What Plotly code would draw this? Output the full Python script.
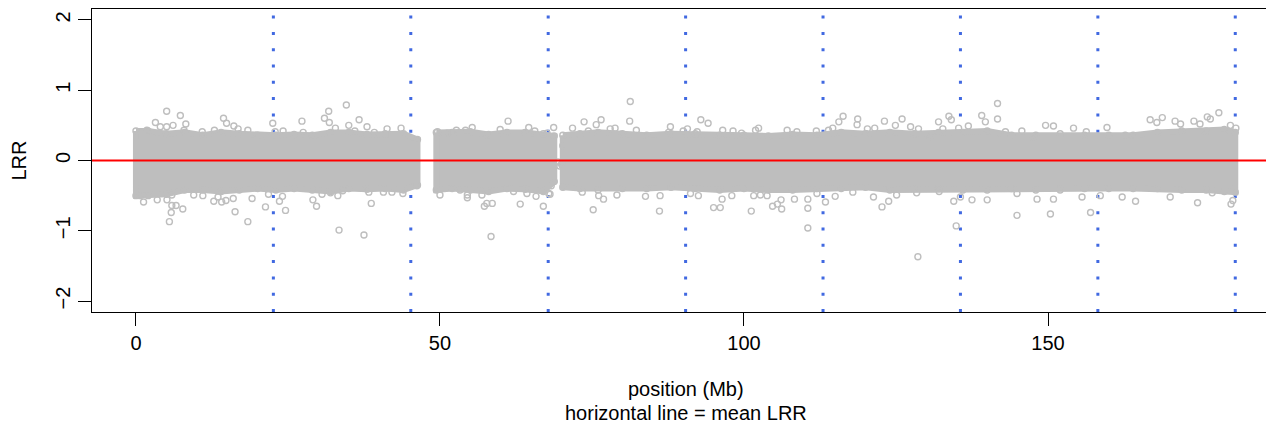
import plotly.graph_objects as go

# ---- data ----
# dense core of the LRR cloud (upper / lower extent of the solid band), per segment
core1_pos = [0.0, 2, 5, 8, 11, 14, 17, 20, 23, 26, 29, 32, 35, 38, 41, 44, 46.3]
core1_top = [0.42, 0.42, 0.38, 0.40, 0.36, 0.40, 0.38, 0.36, 0.36, 0.37, 0.36, 0.40, 0.40, 0.37, 0.38, 0.38, 0.30]
core1_bot = [-0.50, -0.50, -0.48, -0.42, -0.42, -0.44, -0.42, -0.40, -0.42, -0.40, -0.42, -0.44, -0.40, -0.41, -0.40, -0.42, -0.35]

core2_pos = [49.4, 52, 55, 58, 61, 64, 67, 68.8]
core2_top = [0.40, 0.40, 0.41, 0.37, 0.40, 0.40, 0.38, 0.35]
core2_bot = [-0.42, -0.40, -0.42, -0.44, -0.40, -0.41, -0.44, -0.30]

core3_pos = [70.2, 73, 76, 80, 84, 88, 92, 96, 100, 104, 108, 112, 116, 120, 124, 128,
             132, 136, 140, 144, 148, 152, 156, 160, 164, 168, 172, 176, 179, 180.8]
core3_top = [0.36, 0.38, 0.40, 0.38, 0.36, 0.38, 0.38, 0.36, 0.36, 0.35, 0.37, 0.36, 0.40, 0.38, 0.40, 0.38,
             0.40, 0.40, 0.42, 0.36, 0.36, 0.38, 0.36, 0.36, 0.36, 0.40, 0.42, 0.42, 0.44, 0.40]
core3_bot = [-0.38, -0.40, -0.42, -0.40, -0.40, -0.38, -0.40, -0.42, -0.40, -0.42, -0.42, -0.40, -0.40, -0.38, -0.42, -0.40,
             -0.40, -0.42, -0.42, -0.40, -0.42, -0.42, -0.40, -0.40, -0.40, -0.40, -0.42, -0.42, -0.44, -0.45]

# individual probes visible outside the dense band (position Mb, LRR)
probe_pos = [
    5.05, 7.3, 3.2, 5.05, 4.0, 6.1, 8.2, 7.9, 10.9, 14.4, 14.9, 16.1, 16.8, 18.4, 12.9, 22.5, 22.9, 24.2,
    27.3, 27.5, 31.7, 34.6, 31.8, 31.0, 32.8, 36.7, 35.0, 38.0, 36.0, 41.3, 43.6, 39.2, 29.1, 21.5, 1.8,
    1.25, 5.5, 5.8, 5.9, 6.6, 7.7, 5.1, 5.9, 3.5, 9.5, 11.0, 12.8, 13.5, 14.1, 14.8, 16.0, 16.3, 18.4,
    19.1, 21.3, 21.8, 23.6, 24.1, 24.6, 29.1, 29.7, 30.6, 32.0, 33.2, 33.4, 34.0, 37.5, 38.7, 38.3, 40.7,
    42.1, 43.9, 46.2, 0.7,
    49.6, 51.2, 52.7, 54.2, 55.3, 57.7, 59.9, 61.2, 64.6, 65.6, 67.6, 68.7,
    50.0, 53.3, 54.5, 54.5, 56.9, 57.3, 57.7, 58.6, 58.4, 62.1, 63.2, 64.3, 65.8, 67.0, 68.3, 67.9, 68.1,
    69.4, 69.7, 70.0, 70.2, 70.1,
    71.8, 73.7, 75.7, 76.5, 74.4, 78.0, 78.8, 81.2, 81.3, 82.3, 87.9, 87.6, 90.0, 90.7, 92.9, 94.1, 92.3,
    96.5, 98.2, 99.6, 101.9, 102.4, 107.1, 108.7, 111.9, 113.9, 114.6, 115.6, 116.3, 118.7, 118.6, 120.1,
    75.2, 73.4, 76.1, 76.9, 79.1, 83.8, 86.1, 86.2, 91.2, 92.5, 95.0, 96.1, 96.4, 98.0, 101.2, 101.6,
    102.7, 103.8, 104.7, 105.5, 106.2, 106.1, 108.3, 110.5, 110.5, 110.5, 112.0, 113.4, 115.0, 117.9,
    120.3, 123.1, 121.5, 124.9, 126.0, 127.4, 128.7, 130.6, 132.0, 133.7, 134.1, 132.7, 135.3, 136.9,
    139.1, 139.7, 141.7, 141.7, 143.0, 145.7, 147.6, 149.6, 150.9, 154.2, 156.3, 159.7, 162.7, 166.8,
    167.9, 168.8, 170.9, 171.8, 174.0, 176.2, 176.7, 178.1, 180.0, 180.9, 175.0,
    121.3, 122.7, 123.8, 125.1, 128.4, 132.1, 134.5, 134.9, 135.6, 137.5, 140.0, 128.6, 144.9, 144.9,
    148.2, 150.4, 150.9, 155.6, 157.0, 158.6, 164.4, 162.2, 170.1, 174.6, 177.0, 180.1, 180.4,
]
probe_lrr = [
    0.70, 0.64, 0.54, 0.48, 0.48, 0.50, 0.52, 0.43, 0.41, 0.60, 0.53, 0.49, 0.45, 0.43, 0.43, 0.53, 0.41, 0.42,
    0.56, 0.40, 0.70, 0.79, 0.54, 0.60, 0.46, 0.58, 0.50, 0.48, 0.42, 0.45, 0.46, 0.40, 0.34, 0.34, 0.43,
    -0.59, -0.87, -0.74, -0.64, -0.64, -0.69, -0.56, -0.49, -0.56, -0.49, -0.50, -0.58, -0.52, -0.59, -0.57, -0.54, -0.73, -0.87,
    -0.54, -0.66, -0.48, -0.58, -0.51, -0.71, -0.56, -0.65, -0.48, -0.46, -0.50, -0.99, -0.43, -1.06, -0.61, -0.45, -0.45,
    -0.45, -0.47, -0.36, -0.50,
    0.41, 0.39, 0.43, 0.43, 0.47, 0.36, 0.44, 0.56, 0.47, 0.42, 0.39, 0.47,
    -0.49, -0.42, -0.53, -0.49, -0.49, -0.65, -0.61, -0.61, -1.08, -0.44, -0.62, -0.47, -0.51, -0.65, -0.36, -0.47, -0.48,
    -0.02, -0.08, -0.05, 0.21, -0.07,
    0.46, 0.55, 0.51, 0.58, 0.42, 0.45, 0.46, 0.56, 0.84, 0.43, 0.48, 0.40, 0.42, 0.45, 0.58, 0.53, 0.41,
    0.43, 0.42, 0.39, 0.43, 0.46, 0.43, 0.41, 0.42, 0.43, 0.46, 0.55, 0.63, 0.59, 0.51, 0.38,
    -0.70, -0.45, -0.50, -0.55, -0.49, -0.51, -0.72, -0.50, -0.47, -0.50, -0.67, -0.67, -0.55, -0.50, -0.72, -0.50,
    -0.49, -0.50, -0.65, -0.62, -0.69, -0.56, -0.55, -0.55, -0.68, -0.96, -0.47, -0.59, -0.51, -0.45,
    0.45, 0.56, 0.46, 0.50, 0.59, 0.48, 0.45, 0.34, 0.55, 0.63, 0.58, 0.45, 0.46, 0.49,
    0.64, 0.55, 0.81, 0.59, 0.41, 0.42, 0.33, 0.50, 0.49, 0.46, 0.41, 0.47, 0.36, 0.58,
    0.54, 0.61, 0.56, 0.52, 0.56, 0.62, 0.59, 0.68, 0.50, 0.46, 0.52,
    -0.52, -0.66, -0.58, -0.49, -0.46, -0.44, -0.58, -0.93, -0.52, -0.56, -0.56, -1.37, -0.78, -0.47,
    -0.55, -0.76, -0.55, -0.52, -0.74, -0.50, -0.58, -0.52, -0.52, -0.60, -0.46, -0.62, -0.57,
]

mean_lrr = 0.0
boundary_pos = [22.6, 45.2, 67.8, 90.4, 113.0, 135.6, 158.2, 180.8]

x_ticks = [0, 50, 100, 150]
y_ticks = [-2, -1, 0, 1, 2]
x_range = [-7.23, 187.17]
y_range = [-2.155, 2.155]

GRAY = "#BEBEBE"
FONT = "Liberation Sans, Arial, sans-serif"

fig = go.Figure()

for px, top, bot in [(core1_pos, core1_top, core1_bot),
                     (core2_pos, core2_top, core2_bot),
                     (core3_pos, core3_top, core3_bot)]:
    poly_x = list(px) + list(px[::-1]) + [px[0]]
    poly_y = list(top) + list(bot[::-1]) + [top[0]]
    fig.add_trace(go.Scatter(
        x=poly_x, y=poly_y, mode="lines", fill="toself", fillcolor=GRAY,
        line=dict(color=GRAY, width=6), hoverinfo="skip", showlegend=False))
    fig.add_trace(go.Scatter(
        x=list(px) + list(px), y=list(top) + list(bot), mode="markers",
        marker=dict(symbol="circle-open", size=6, color=GRAY, line=dict(width=1.4, color=GRAY)),
        hoverinfo="skip", showlegend=False))

fig.add_trace(go.Scatter(
    x=probe_pos, y=probe_lrr, mode="markers",
    marker=dict(symbol="circle-open", size=6, color=GRAY, line=dict(width=1.4, color=GRAY)),
    showlegend=False))

shapes = []
for b in boundary_pos:
    shapes.append(dict(type="line", xref="x", yref="paper", x0=b, x1=b, y0=0, y1=1,
                       layer="below", line=dict(color="#4169E1", width=3, dash="3px,13.3px")))
shapes.append(dict(type="line", xref="paper", yref="y", x0=0, x1=1, y0=mean_lrr, y1=mean_lrr,
                   layer="above", line=dict(color="#FF0000", width=2)))

fig.update_layout(
    width=1266, height=417,
    margin=dict(l=84, r=0, t=1, b=113),
    paper_bgcolor="white", plot_bgcolor="white",
    font=dict(family=FONT, size=20, color="black"),
    shapes=shapes,
    showlegend=False,
    xaxis=dict(range=x_range, tickvals=x_ticks, ticks="outside", ticklen=13, tickwidth=1.3,
               tickcolor="black", showline=True, linecolor="black", linewidth=1.3, mirror=True,
               showgrid=False, zeroline=False, tickfont=dict(size=20)),
    yaxis=dict(range=y_range, tickvals=y_ticks, ticks="outside", ticklen=13, tickwidth=1.3,
               tickcolor="black", showline=True, linecolor="black", linewidth=1.3, mirror=False,
               showgrid=False, zeroline=False, tickangle=-90, tickfont=dict(size=20)),
    annotations=[
        dict(text="LRR", xref="paper", yref="paper", x=-0.0626, y=0.5, textangle=-90,
             showarrow=False, xanchor="center", yanchor="middle", borderpad=0,
             font=dict(size=20)),
        dict(text="position (Mb)", xref="x", yref="paper", x=90.4, y=0, yshift=-77,
             showarrow=False, xanchor="center", yanchor="middle", font=dict(size=20)),
        dict(text="horizontal line = mean LRR", xref="x", yref="paper", x=90.4, y=0, yshift=-101,
             showarrow=False, xanchor="center", yanchor="middle", font=dict(size=20)),
    ],
)

fig.write_html("out.html", config={"displayModeBar": False})
